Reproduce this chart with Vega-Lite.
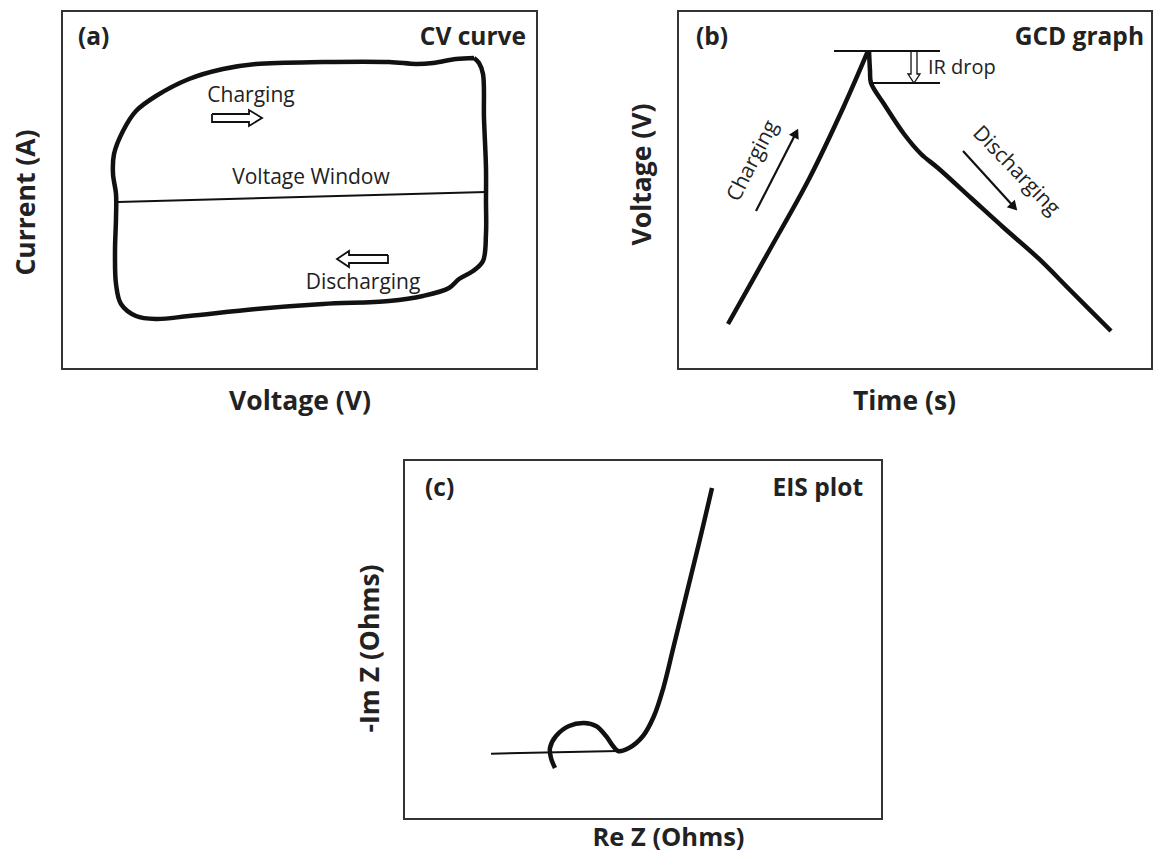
{
  "$schema": "https://vega.github.io/schema/vega-lite/v6.json",
  "padding": {"left": 12, "top": 10, "right": 5, "bottom": 5},
  "background": "white",
  "config": {
    "font": "Open Sans",
    "view": {"stroke": "#333333", "strokeWidth": 2},
    "axis": {"ticks": false, "labels": false, "domain": false, "grid": false, "titleFont": "Open Sans", "titleFontWeight": "bold", "titleFontSize": 26.5, "titleColor": "#222222"}
  },
  "datasets": {
    "cv_loop": [
      {"o": 1, "voltage": 86.74, "current": 86.87},
      {"o": 2, "voltage": 82.95, "current": 86.59},
      {"o": 3, "voltage": 78.11, "current": 85.47},
      {"o": 4, "voltage": 74.53, "current": 85.20},
      {"o": 5, "voltage": 68.84, "current": 85.75},
      {"o": 6, "voltage": 54.95, "current": 85.75},
      {"o": 7, "voltage": 40.84, "current": 85.20},
      {"o": 8, "voltage": 33.89, "current": 83.80},
      {"o": 9, "voltage": 26.74, "current": 81.01},
      {"o": 10, "voltage": 19.79, "current": 76.26},
      {"o": 11, "voltage": 15.58, "current": 72.07},
      {"o": 12, "voltage": 12.84, "current": 66.48},
      {"o": 13, "voltage": 10.95, "current": 60.06},
      {"o": 14, "voltage": 10.74, "current": 54.47},
      {"o": 15, "voltage": 11.37, "current": 48.88},
      {"o": 16, "voltage": 11.37, "current": 42.18},
      {"o": 17, "voltage": 11.16, "current": 32.96},
      {"o": 18, "voltage": 11.37, "current": 23.74},
      {"o": 19, "voltage": 12.42, "current": 18.16},
      {"o": 20, "voltage": 15.58, "current": 14.80},
      {"o": 21, "voltage": 19.79, "current": 13.97},
      {"o": 22, "voltage": 26.74, "current": 14.80},
      {"o": 23, "voltage": 40.84, "current": 16.76},
      {"o": 24, "voltage": 54.95, "current": 18.16},
      {"o": 25, "voltage": 68.84, "current": 18.99},
      {"o": 26, "voltage": 76.00, "current": 20.39},
      {"o": 27, "voltage": 81.47, "current": 22.63},
      {"o": 28, "voltage": 83.58, "current": 25.14},
      {"o": 29, "voltage": 86.53, "current": 27.37},
      {"o": 30, "voltage": 88.63, "current": 30.17},
      {"o": 31, "voltage": 89.26, "current": 37.71},
      {"o": 32, "voltage": 89.26, "current": 46.93},
      {"o": 33, "voltage": 89.26, "current": 56.15},
      {"o": 34, "voltage": 88.84, "current": 70.11},
      {"o": 35, "voltage": 88.63, "current": 82.40},
      {"o": 36, "voltage": 87.79, "current": 85.47},
      {"o": 37, "voltage": 86.74, "current": 86.87}
    ],
    "cv_window": [
      {"voltage": 11.79, "current": 46.65},
      {"voltage": 89.26, "current": 49.44}
    ],
    "cv_arrows": [
      {"arrow": "charge", "o": 1, "voltage": 31.58, "current": 71.23},
      {"arrow": "charge", "o": 2, "voltage": 39.37, "current": 71.23},
      {"arrow": "charge", "o": 3, "voltage": 39.37, "current": 72.35},
      {"arrow": "charge", "o": 4, "voltage": 42.11, "current": 70.11},
      {"arrow": "charge", "o": 5, "voltage": 39.37, "current": 67.88},
      {"arrow": "charge", "o": 6, "voltage": 39.37, "current": 68.99},
      {"arrow": "charge", "o": 7, "voltage": 31.58, "current": 68.99},
      {"arrow": "charge", "o": 8, "voltage": 31.58, "current": 71.23},
      {"arrow": "discharge", "o": 1, "voltage": 68.63, "current": 31.84},
      {"arrow": "discharge", "o": 2, "voltage": 60.42, "current": 31.84},
      {"arrow": "discharge", "o": 3, "voltage": 60.42, "current": 32.96},
      {"arrow": "discharge", "o": 4, "voltage": 57.89, "current": 30.73},
      {"arrow": "discharge", "o": 5, "voltage": 60.42, "current": 28.49},
      {"arrow": "discharge", "o": 6, "voltage": 60.42, "current": 29.61},
      {"arrow": "discharge", "o": 7, "voltage": 68.63, "current": 29.61},
      {"arrow": "discharge", "o": 8, "voltage": 68.63, "current": 31.84}
    ],
    "cv_text": [
      {"label": "Charging", "voltage": 39.79, "current": 76.26},
      {"label": "Voltage Window", "voltage": 52.42, "current": 53.35},
      {"label": "Discharging", "voltage": 63.37, "current": 24.02}
    ],
    "gcd_charge": [
      {"o": 1, "time": 10.55, "voltage": 12.57},
      {"o": 2, "time": 19.20, "voltage": 32.96},
      {"o": 3, "time": 27.64, "voltage": 53.07},
      {"o": 4, "time": 35.02, "voltage": 73.46},
      {"o": 5, "time": 40.08, "voltage": 88.83}
    ],
    "gcd_discharge": [
      {"o": 1, "time": 40.30, "voltage": 88.83},
      {"o": 2, "time": 40.51, "voltage": 83.24},
      {"o": 3, "time": 40.72, "voltage": 79.89},
      {"o": 4, "time": 43.46, "voltage": 74.02},
      {"o": 5, "time": 47.68, "voltage": 65.64},
      {"o": 6, "time": 51.27, "voltage": 60.06},
      {"o": 7, "time": 54.85, "voltage": 56.15},
      {"o": 8, "time": 61.81, "voltage": 47.77},
      {"o": 9, "time": 68.78, "voltage": 39.39},
      {"o": 10, "time": 75.95, "voltage": 31.01},
      {"o": 11, "time": 82.91, "voltage": 21.79},
      {"o": 12, "time": 91.35, "voltage": 10.61}
    ],
    "gcd_levels": [
      {"level": "peak", "time": 32.91, "voltage": 88.83},
      {"level": "peak", "time": 55.27, "voltage": 88.83},
      {"level": "after drop", "time": 40.72, "voltage": 79.89},
      {"level": "after drop", "time": 55.27, "voltage": 79.89}
    ],
    "gcd_ir_arrow": [
      {"o": 1, "time": 49.16, "voltage": 88.55},
      {"o": 2, "time": 49.16, "voltage": 82.40},
      {"o": 3, "time": 48.52, "voltage": 82.40},
      {"o": 4, "time": 49.79, "voltage": 79.89},
      {"o": 5, "time": 51.05, "voltage": 82.40},
      {"o": 6, "time": 50.42, "voltage": 82.40},
      {"o": 7, "time": 50.42, "voltage": 88.55}
    ],
    "gcd_dir_lines": [
      {"arrow": "charging", "time": 16.46, "voltage": 44.13},
      {"arrow": "charging", "time": 24.89, "voltage": 65.92},
      {"arrow": "discharging", "time": 60.13, "voltage": 60.89},
      {"arrow": "discharging", "time": 70.89, "voltage": 45.25}
    ],
    "eis_curve": [
      {"o": 1, "re": 31.59, "im": 14.21},
      {"o": 2, "re": 30.75, "im": 16.99},
      {"o": 3, "re": 30.54, "im": 19.78},
      {"o": 4, "re": 31.80, "im": 23.12},
      {"o": 5, "re": 34.52, "im": 25.91},
      {"o": 6, "re": 37.66, "im": 26.74},
      {"o": 7, "re": 40.17, "im": 25.91},
      {"o": 8, "re": 42.26, "im": 23.12},
      {"o": 9, "re": 43.73, "im": 20.33},
      {"o": 10, "re": 44.77, "im": 18.94},
      {"o": 11, "re": 47.07, "im": 19.78},
      {"o": 12, "re": 50.00, "im": 23.12},
      {"o": 13, "re": 52.30, "im": 28.69},
      {"o": 14, "re": 54.19, "im": 36.21},
      {"o": 15, "re": 56.28, "im": 47.35},
      {"o": 16, "re": 59.00, "im": 62.12},
      {"o": 17, "re": 61.72, "im": 76.88},
      {"o": 18, "re": 64.44, "im": 92.20}
    ],
    "eis_baseline": [
      {"re": 18.20, "im": 18.19},
      {"re": 44.77, "im": 18.94}
    ]
  },
  "bounds": "flush",
  "spacing": 449,
  "vconcat": [
    {
      "bounds": "flush",
      "spacing": 141,
      "hconcat": [
        {
          "width": 475,
          "height": 358,
          "encoding": {
            "x": {"field": "voltage", "type": "quantitative", "scale": {"domain": [0, 100], "nice": false, "zero": false}, "axis": {"title": "Voltage (V)", "titlePadding": 19}},
            "y": {"field": "current", "type": "quantitative", "scale": {"domain": [0, 100], "nice": false, "zero": false}, "axis": {"title": "Current (A)", "titlePadding": 22, "titleY": 191}}
          },
          "layer": [
            {"data": {"name": "cv_loop"}, "mark": {"type": "line", "color": "#111111", "strokeWidth": 4.5, "interpolate": "catmull-rom", "strokeJoin": "round"}, "encoding": {"order": {"field": "o", "type": "quantitative"}}},
            {"data": {"name": "cv_window"}, "mark": {"type": "line", "color": "#111111", "strokeWidth": 2}, "encoding": {}},
            {"data": {"name": "cv_arrows"}, "mark": {"type": "line", "color": "#111111", "strokeWidth": 1.8, "strokeJoin": "miter"}, "encoding": {"detail": {"field": "arrow", "type": "nominal"}, "order": {"field": "o", "type": "quantitative"}}},
            {"data": {"name": "cv_text"}, "mark": {"type": "text", "fontSize": 21, "color": "#222222", "align": "center", "baseline": "middle"}, "encoding": {"text": {"field": "label", "type": "nominal"}}},
            {"data": {"values": [{"label": "(a)", "voltage": 3.37, "current": 92.46}]}, "mark": {"type": "text", "fontSize": 24.5, "fontWeight": "bold", "color": "#222222", "align": "left", "baseline": "middle"}, "encoding": {"text": {"field": "label", "type": "nominal"}}},
            {"data": {"values": [{"label": "CV curve", "voltage": 97.68, "current": 92.46}]}, "mark": {"type": "text", "fontSize": 24.5, "fontWeight": "bold", "color": "#222222", "align": "right", "baseline": "middle"}, "encoding": {"text": {"field": "label", "type": "nominal"}}}
          ]
        },
        {
          "width": 474,
          "height": 358,
          "encoding": {
            "x": {"field": "time", "type": "quantitative", "scale": {"domain": [0, 100], "nice": false, "zero": false}, "axis": {"title": "Time (s)", "titlePadding": 19, "titleX": 226}},
            "y": {"field": "voltage", "type": "quantitative", "scale": {"domain": [0, 100], "nice": false, "zero": false}, "axis": {"title": "Voltage (V)", "titlePadding": 22, "titleY": 163}}
          },
          "layer": [
            {"data": {"name": "gcd_charge"}, "mark": {"type": "line", "color": "#111111", "strokeWidth": 4.5, "interpolate": "catmull-rom", "strokeJoin": "round"}, "encoding": {"order": {"field": "o", "type": "quantitative"}}},
            {"data": {"name": "gcd_discharge"}, "mark": {"type": "line", "color": "#111111", "strokeWidth": 4.5, "interpolate": "catmull-rom", "strokeJoin": "round"}, "encoding": {"order": {"field": "o", "type": "quantitative"}}},
            {"data": {"name": "gcd_levels"}, "mark": {"type": "line", "color": "#111111", "strokeWidth": 2}, "encoding": {"detail": {"field": "level", "type": "nominal"}}},
            {"data": {"name": "gcd_ir_arrow"}, "mark": {"type": "line", "color": "#111111", "strokeWidth": 1.3, "strokeJoin": "miter"}, "encoding": {"order": {"field": "o", "type": "quantitative"}}},
            {"data": {"name": "gcd_dir_lines"}, "mark": {"type": "line", "color": "#111111", "strokeWidth": 2.2}, "encoding": {"detail": {"field": "arrow", "type": "nominal"}}},
            {"data": {"values": [{"arrow": "charging", "time": 24.89, "voltage": 65.92}]}, "mark": {"type": "point", "shape": "triangle-up", "filled": true, "opacity": 1, "size": 120, "color": "#111111", "angle": 27}, "encoding": {}},
            {"data": {"values": [{"arrow": "discharging", "time": 70.89, "voltage": 45.25}]}, "mark": {"type": "point", "shape": "triangle-up", "filled": true, "opacity": 1, "size": 120, "color": "#111111", "angle": 137}, "encoding": {}},
            {"data": {"values": [{"label": "IR drop", "time": 52.74, "voltage": 84.08}]}, "mark": {"type": "text", "fontSize": 20, "color": "#222222", "align": "left", "baseline": "middle"}, "encoding": {"text": {"field": "label", "type": "nominal"}}},
            {"data": {"values": [{"label": "Charging", "time": 15.82, "voltage": 58.10}]}, "mark": {"type": "text", "fontSize": 21, "color": "#222222", "align": "center", "baseline": "middle", "angle": -63}, "encoding": {"text": {"field": "label", "type": "nominal"}}},
            {"data": {"values": [{"label": "Discharging", "time": 71.31, "voltage": 55.31}]}, "mark": {"type": "text", "fontSize": 21, "color": "#222222", "align": "center", "baseline": "middle", "angle": 46}, "encoding": {"text": {"field": "label", "type": "nominal"}}},
            {"data": {"values": [{"label": "(b)", "time": 3.80, "voltage": 92.46}]}, "mark": {"type": "text", "fontSize": 24.5, "fontWeight": "bold", "color": "#222222", "align": "left", "baseline": "middle"}, "encoding": {"text": {"field": "label", "type": "nominal"}}},
            {"data": {"values": [{"label": "GCD graph", "time": 98.31, "voltage": 92.46}]}, "mark": {"type": "text", "fontSize": 24.5, "fontWeight": "bold", "color": "#222222", "align": "right", "baseline": "middle"}, "encoding": {"text": {"field": "label", "type": "nominal"}}}
          ]
        }
      ]
    },
    {
      "bounds": "flush",
      "spacing": 20,
      "hconcat": [
        {
          "width": 322,
          "height": 359,
          "view": {"stroke": null},
          "mark": {"type": "text", "opacity": 0},
          "encoding": {"text": {"value": ""}}
        },
        {
          "width": 478,
          "height": 359,
          "encoding": {
            "x": {"field": "re", "type": "quantitative", "scale": {"domain": [0, 100], "nice": false, "zero": false}, "axis": {"title": "Re Z (Ohms)", "titlePadding": 6, "titleFontSize": 25.5, "titleX": 264}},
            "y": {"field": "im", "type": "quantitative", "scale": {"domain": [0, 100], "nice": false, "zero": false}, "axis": {"title": "-Im Z (Ohms)", "titlePadding": 20, "titleY": 188}}
          },
          "layer": [
            {"data": {"name": "eis_baseline"}, "mark": {"type": "line", "color": "#111111", "strokeWidth": 2}, "encoding": {}},
            {"data": {"name": "eis_curve"}, "mark": {"type": "line", "color": "#111111", "strokeWidth": 4.5, "interpolate": "catmull-rom", "strokeJoin": "round"}, "encoding": {"order": {"field": "o", "type": "quantitative"}}},
            {"data": {"values": [{"label": "(c)", "re": 4.39, "im": 91.92}]}, "mark": {"type": "text", "fontSize": 24.5, "fontWeight": "bold", "color": "#222222", "align": "left", "baseline": "middle"}, "encoding": {"text": {"field": "label", "type": "nominal"}}},
            {"data": {"values": [{"label": "EIS plot", "re": 96.03, "im": 91.92}]}, "mark": {"type": "text", "fontSize": 24.5, "fontWeight": "bold", "color": "#222222", "align": "right", "baseline": "middle"}, "encoding": {"text": {"field": "label", "type": "nominal"}}}
          ]
        }
      ]
    }
  ]
}
